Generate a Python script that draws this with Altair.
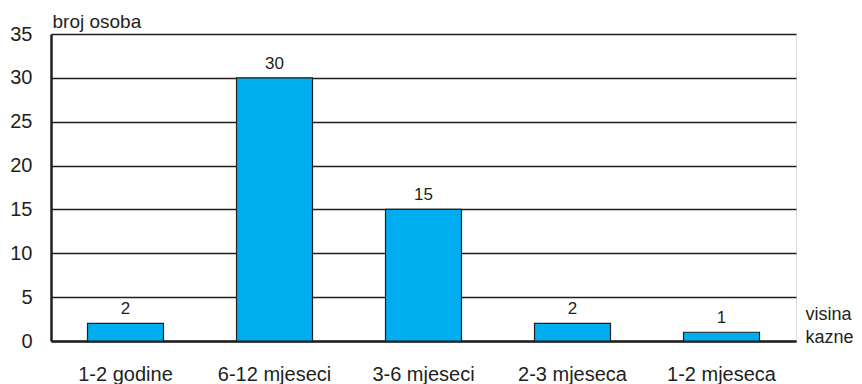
import altair as alt
import pandas as pd

categories = ["1-2 godine", "6-12 mjeseci", "3-6 mjeseci", "2-3 mjeseca", "1-2 mjeseca"]
values = [2, 30, 15, 2, 1]
y_ticks = [0, 5, 10, 15, 20, 25, 30, 35]
y_title = "broj osoba"
x_title = ["visina", "kazne"]

df = pd.DataFrame({"cat": categories, "val": values})
FONT = "Liberation Sans, Arial, Helvetica, sans-serif"
INK = "#231f20"

base = alt.Chart(df).encode(
    x=alt.X("cat:N", sort=categories,
            scale=alt.Scale(paddingInner=0.49, paddingOuter=0.245),
            axis=alt.Axis(title=x_title, labelAngle=0, ticks=False, labelPadding=23,
                          labelFontSize=20, labelFont=FONT, labelColor=INK,
                          domainColor=INK, domainWidth=2.5,
                          titleX=754, titleY=-22, titleAlign="left", titleBaseline="alphabetic",
                          titleFontWeight="normal", titleFontSize=18, titleFont=FONT,
                          titleColor=INK, titleLineHeight=23)),
    y=alt.Y("val:Q", scale=alt.Scale(domain=[0, 35], nice=False),
            axis=alt.Axis(title=y_title, values=y_ticks, ticks=False, labelPadding=19,
                          labelFontSize=20, labelFont=FONT, labelColor=INK,
                          domainColor=INK, domainWidth=2.5,
                          grid=True, gridColor=INK, gridWidth=1.5, gridOpacity=1,
                          titleAngle=0, titleX=1, titleY=-7, titleAlign="left",
                          titleBaseline="alphabetic", titleFontWeight="normal",
                          titleFontSize=19, titleFont=FONT, titleColor=INK)),
)

bars = base.mark_bar(color="#00aeef", stroke=INK, strokeWidth=1.2)
labels = base.mark_text(dy=-5, baseline="bottom", fontSize=17, font=FONT, color=INK).encode(
    text="val:Q")

chart = (bars + labels).properties(
    width=745, height=307,
    autosize=alt.AutoSizeParams(type="none"),
    padding={"left": 43, "top": 26, "right": 58, "bottom": 43},
).configure_view(stroke=INK, strokeWidth=1.5).configure(background="white")

chart.save("out.html", embed_options={"renderer": "svg", "actions": False})
